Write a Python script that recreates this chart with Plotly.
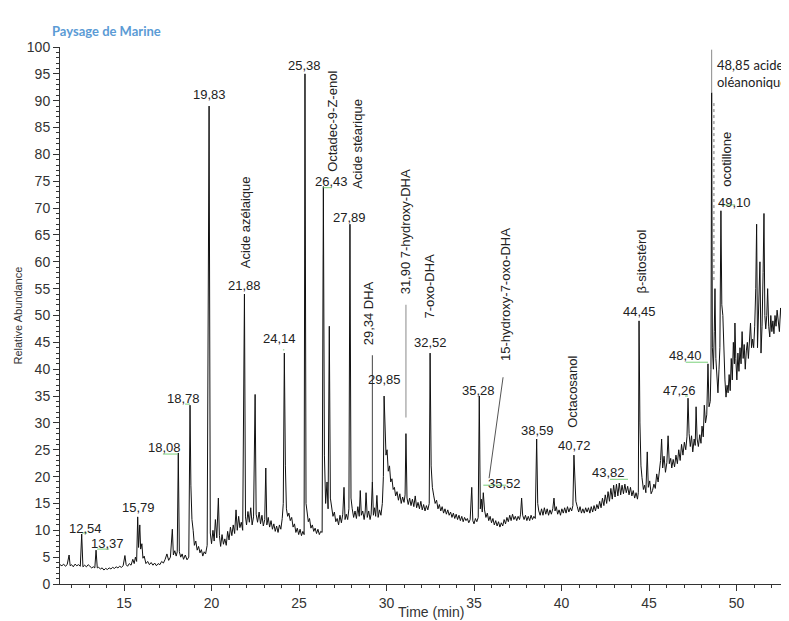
import plotly.graph_objects as go

# ---------------- data ----------------
rt_min = [
    11.34, 11.45, 11.55, 11.65, 11.75, 11.86, 11.92, 12.0, 12.1, 12.2, 12.3, 12.4, 12.5, 12.58, 12.65, 12.75,
    12.85, 12.95, 13.05, 13.15, 13.25, 13.33, 13.4, 13.47, 13.55, 13.65, 13.75, 13.85, 13.95, 14.05, 14.15,
    14.25, 14.35, 14.45, 14.55, 14.65, 14.75, 14.85, 14.95, 15.05, 15.12, 15.2, 15.3, 15.4, 15.5, 15.58,
    15.65, 15.72, 15.78, 15.83, 15.9, 15.95, 16.02, 16.08, 16.15, 16.25, 16.35, 16.45, 16.55, 16.65, 16.75,
    16.85, 16.95, 17.05, 17.15, 17.25, 17.35, 17.45, 17.55, 17.65, 17.76, 17.82, 17.9, 17.98, 18.04, 18.1,
    18.16, 18.24, 18.32, 18.4, 18.5, 18.6, 18.7, 18.77, 18.82, 18.88, 18.95, 19.02, 19.1, 19.18, 19.26,
    19.34, 19.42, 19.5, 19.58, 19.66, 19.75, 19.86, 19.93, 20.0, 20.08, 20.15, 20.22, 20.3, 20.39, 20.45,
    20.52, 20.6, 20.68, 20.76, 20.84, 20.92, 21.0, 21.08, 21.16, 21.24, 21.32, 21.4, 21.47, 21.55, 21.62,
    21.7, 21.78, 21.88, 21.94, 22.0, 22.08, 22.16, 22.24, 22.32, 22.4, 22.49, 22.55, 22.63, 22.72, 22.8,
    22.88, 22.96, 23.04, 23.1, 23.16, 23.24, 23.32, 23.4, 23.48, 23.56, 23.64, 23.72, 23.8, 23.88, 23.96,
    24.04, 24.1, 24.16, 24.22, 24.28, 24.35, 24.42, 24.5, 24.58, 24.66, 24.74, 24.82, 24.9, 24.98, 25.06,
    25.14, 25.22, 25.29, 25.34, 25.4, 25.46, 25.53, 25.6, 25.68, 25.76, 25.84, 25.92, 26.0, 26.08, 26.16,
    26.24, 26.32, 26.39, 26.45, 26.52, 26.6, 26.66, 26.73, 26.79, 26.86, 26.94, 27.02, 27.1, 27.18, 27.26,
    27.34, 27.42, 27.5, 27.57, 27.63, 27.7, 27.78, 27.85, 27.91, 27.97, 28.04, 28.12, 28.2, 28.28, 28.36,
    28.44, 28.5, 28.56, 28.64, 28.72, 28.78, 28.83, 28.9, 28.98, 29.06, 29.12, 29.19, 29.25, 29.32, 29.38,
    29.45, 29.52, 29.6, 29.68, 29.76, 29.82, 29.86, 29.92, 29.97, 30.03, 30.1, 30.17, 30.24, 30.31, 30.38,
    30.45, 30.52, 30.6, 30.68, 30.76, 30.84, 30.92, 31.0, 31.06, 31.11, 31.17, 31.24, 31.32, 31.4, 31.48,
    31.56, 31.64, 31.72, 31.8, 31.88, 31.96, 32.04, 32.12, 32.2, 32.28, 32.36, 32.44, 32.49, 32.55, 32.62,
    32.7, 32.78, 32.86, 32.94, 33.02, 33.1, 33.18, 33.26, 33.34, 33.42, 33.5, 33.58, 33.66, 33.74, 33.82,
    33.9, 33.98, 34.06, 34.14, 34.22, 34.3, 34.38, 34.46, 34.54, 34.62, 34.7, 34.78, 34.87, 34.93, 35.0,
    35.08, 35.16, 35.24, 35.3, 35.36, 35.42, 35.47, 35.53, 35.6, 35.68, 35.76, 35.84, 35.92, 36.0, 36.08,
    36.16, 36.24, 36.32, 36.4, 36.48, 36.56, 36.64, 36.72, 36.8, 36.88, 36.96, 37.04, 37.12, 37.2, 37.28,
    37.36, 37.44, 37.52, 37.6, 37.66, 37.72, 37.78, 37.86, 37.94, 38.02, 38.1, 38.18, 38.26, 38.34, 38.42,
    38.5, 38.58, 38.64, 38.7, 38.78, 38.86, 38.94, 39.02, 39.1, 39.18, 39.26, 39.34, 39.42, 39.5, 39.57,
    39.63, 39.7, 39.78, 39.86, 39.94, 40.02, 40.1, 40.18, 40.26, 40.34, 40.42, 40.5, 40.58, 40.65, 40.71,
    40.76, 40.82, 40.9, 40.98, 41.06, 41.14, 41.22, 41.3, 41.38, 41.46, 41.54, 41.62, 41.7, 41.78, 41.86,
    41.94, 42.02, 42.1, 42.18, 42.26, 42.34, 42.42, 42.5, 42.58, 42.66, 42.74, 42.82, 42.9, 42.98, 43.06,
    43.14, 43.22, 43.3, 43.38, 43.46, 43.54, 43.62, 43.7, 43.78, 43.86, 43.94, 44.02, 44.1, 44.18, 44.26,
    44.34, 44.39, 44.43, 44.48, 44.54, 44.6, 44.68, 44.75, 44.82, 44.9, 44.96, 45.04, 45.12, 45.2, 45.28,
    45.36, 45.44, 45.52, 45.6, 45.66, 45.72, 45.78, 45.86, 45.94, 46.02, 46.09, 46.16, 46.24, 46.3, 46.38,
    46.46, 46.54, 46.62, 46.7, 46.78, 46.86, 46.94, 47.02, 47.1, 47.17, 47.23, 47.29, 47.36, 47.43, 47.5,
    47.58, 47.64, 47.69, 47.75, 47.82, 47.9, 47.97, 48.03, 48.1, 48.16, 48.23, 48.3, 48.37, 48.43, 48.5,
    48.54, 48.58, 48.62, 48.68, 48.73, 48.77, 48.82, 48.88, 48.94, 49.0, 49.05, 49.11, 49.16, 49.22, 49.28,
    49.34, 49.4, 49.46, 49.52, 49.58, 49.64, 49.7, 49.76, 49.82, 49.88, 49.91, 49.96, 50.02, 50.08, 50.14,
    50.2, 50.26, 50.32, 50.38, 50.44, 50.5, 50.56, 50.62, 50.68, 50.74, 50.8, 50.86, 50.92, 50.98, 51.04,
    51.1, 51.15, 51.2, 51.26, 51.34, 51.4, 51.46, 51.52, 51.57, 51.62, 51.67, 51.73, 51.78, 51.84, 51.9,
    51.96, 52.02, 52.08, 52.14, 52.2, 52.26, 52.32, 52.38, 52.45, 52.52, 52.58, 52.64, 52.7, 52.76, 52.82,
    52.88, 52.94, 53.0,
]

rel_abund = [
    3.6, 3.4, 3.7, 3.3, 3.6, 5.4, 3.4, 3.6, 3.2, 3.7, 3.4, 3.6, 3.3, 9.3, 3.2, 3.5,
    3.2, 3.6, 3.3, 3.0, 3.2, 3.0, 6.3, 3.0, 3.1, 2.8, 3.0, 2.6, 2.9, 2.7, 3.0,
    2.8, 3.1, 2.9, 3.2, 3.0, 3.3, 3.1, 3.4, 5.3, 3.6, 3.3, 3.8, 3.5, 4.6, 3.8,
    5.0, 4.2, 12.5, 6.8, 11.0, 6.5, 7.5, 4.8, 5.2, 3.8, 4.2, 3.6, 4.0, 3.5, 3.9,
    3.4, 3.8, 3.6, 4.2, 3.9, 4.6, 5.6, 4.4, 5.0, 10.2, 5.4, 6.2, 5.2, 6.0, 24.4,
    6.0, 5.0, 5.6, 4.6, 5.4, 4.5, 5.0, 33.3, 18.4, 12.0, 10.0, 7.2, 8.0, 6.3, 7.0,
    5.8, 6.4, 5.2, 6.0, 5.6, 7.2, 89.0, 9.5, 7.5, 10.0, 8.0, 12.0, 8.6, 16.0, 9.0,
    7.0, 9.2, 7.4, 8.4, 7.2, 9.8, 8.2, 10.6, 9.0, 11.0, 9.4, 13.8, 10.0, 12.6, 10.5,
    11.5, 10.0, 54.0, 12.5, 11.0, 13.5, 11.5, 14.2, 11.0, 12.5, 35.3, 13.0, 11.5, 13.4, 11.2,
    12.8, 10.8, 12.0, 21.6, 11.0, 12.4, 10.6, 11.8, 10.2, 11.2, 9.8, 10.8, 9.6, 11.0, 10.2,
    12.2, 15.0, 43.0, 22.0, 14.0, 12.6, 13.2, 11.8, 12.4, 10.6, 11.2, 9.6, 10.4, 9.2, 10.2,
    9.0, 9.8, 9.2, 95.0, 15.0, 13.0, 11.6, 12.2, 10.4, 11.0, 9.8, 10.4, 9.4, 10.2, 9.2,
    9.8, 9.6, 74.0, 24.0, 15.0, 19.0, 14.0, 48.0, 16.0, 14.0, 12.6, 13.4, 11.6, 12.2, 11.0,
    12.8, 11.4, 13.0, 18.0, 12.0, 13.0, 12.0, 14.0, 67.0, 16.0, 14.0, 12.4, 13.6, 12.2, 14.4,
    12.6, 17.4, 12.8, 13.6, 12.0, 13.4, 17.0, 12.4, 13.6, 12.0, 13.0, 19.0, 12.8, 14.2, 12.6,
    16.5, 12.4, 13.8, 12.8, 15.0, 20.0, 35.0, 30.0, 24.0, 25.0, 21.0, 22.0, 19.0, 19.6, 17.6,
    18.0, 16.4, 17.2, 15.6, 16.8, 15.0, 16.2, 15.2, 16.6, 28.0, 16.0, 14.8, 16.0, 14.6, 15.8,
    14.4, 16.4, 14.2, 15.2, 14.0, 15.4, 13.8, 14.8, 13.6, 14.6, 13.8, 15.0, 43.0, 22.0, 18.0,
    16.4, 15.0, 15.6, 14.0, 14.8, 13.6, 14.4, 13.2, 14.0, 13.0, 13.8, 12.8, 13.4, 12.4, 13.2,
    12.2, 13.0, 12.0, 12.8, 11.8, 12.6, 11.6, 12.4, 11.8, 12.2, 11.4, 12.0, 18.0, 11.8, 11.2,
    12.2, 11.6, 12.4, 35.0, 14.0, 15.8, 13.4, 17.0, 13.8, 12.4, 13.2, 11.8, 12.6, 11.4, 12.2,
    11.0, 11.8, 10.8, 11.6, 10.6, 11.4, 10.8, 12.0, 11.2, 12.4, 11.6, 12.8, 11.8, 13.0, 12.0,
    12.6, 11.8, 12.6, 12.0, 13.0, 16.0, 12.8, 12.0, 12.8, 11.8, 12.6, 11.8, 12.8, 12.0, 12.6,
    12.2, 27.0, 15.0, 13.6, 12.8, 14.0, 12.8, 14.2, 13.0, 14.0, 12.8, 13.8, 13.0, 14.0, 16.0,
    13.6, 14.4, 13.0, 13.8, 12.8, 14.0, 13.2, 14.2, 13.2, 14.4, 13.4, 14.2, 13.6, 14.6, 24.0,
    19.0, 15.4, 14.4, 13.4, 14.4, 13.2, 14.0, 13.2, 14.2, 13.4, 14.2, 13.2, 14.4, 13.4, 14.6,
    13.6, 14.8, 14.0, 15.4, 14.2, 16.0, 14.6, 16.6, 15.0, 17.2, 15.4, 17.8, 15.8, 18.4, 16.2,
    18.6, 16.4, 18.8, 16.6, 18.4, 16.8, 18.6, 17.0, 18.2, 16.6, 18.0, 16.4, 17.4, 16.0, 17.0,
    15.8, 17.0, 49.0, 30.0, 22.0, 19.8, 17.6, 18.4, 17.0, 24.6, 18.0, 19.2, 16.8, 17.4, 18.6,
    17.8, 20.5, 19.0, 21.0, 23.0, 27.0, 21.6, 23.8, 20.8, 22.6, 27.6, 22.4, 23.4, 21.6, 23.2,
    21.8, 24.0, 22.4, 25.0, 23.0, 26.0, 24.0, 26.4, 25.0, 27.4, 34.6, 28.0, 25.6, 27.6, 24.6,
    27.0, 25.8, 33.0, 27.0, 25.6, 27.8, 26.2, 29.4, 27.4, 33.3, 30.0, 31.5, 41.0, 33.0, 34.0,
    40.0, 91.5, 44.0, 40.0, 47.0, 55.0, 42.0, 38.0, 35.6, 40.0, 44.0, 69.5, 52.0, 50.0, 42.0,
    38.0, 34.8, 37.0, 35.6, 39.0, 36.0, 42.0, 38.0, 45.0, 41.0, 48.6, 42.0, 38.0, 43.0, 39.6,
    44.0, 41.0, 47.0, 42.0, 44.6, 40.0, 43.4, 45.0, 42.0, 46.0, 48.6, 44.0, 45.6, 44.0, 48.0,
    55.0, 67.0, 44.0, 50.0, 60.0, 43.0, 48.0, 58.0, 69.0, 50.0, 47.5, 50.0, 55.0, 48.0, 46.0,
    50.0, 47.0, 49.0, 46.6, 50.0, 48.0, 51.0, 48.6, 47.0, 51.4, 49.0, 52.0, 54.5, 50.0, 51.6,
    50.2, 53.0, 51.0,
]

# retention-time labels: (text, time, abundance)
rt_labels = [
    ("12,54", 12.77, 10.4), ("13,37", 14.03, 7.6), ("15,79", 15.80, 14.2),
    ("18,08", 17.29, 25.5), ("18,78", 18.37, 34.6), ("19,83", 19.86, 91.2),
    ("21,88", 21.86, 55.5), ("24,14", 23.89, 45.8), ("25,38", 25.34, 96.5),
    ("26,43", 26.87, 74.9), ("27,89", 27.89, 68.3), ("29,85", 29.91, 38.0),
    ("32,52", 32.49, 45.0), ("35,28", 35.27, 36.0), ("35,52", 36.77, 18.8),
    ("38,59", 38.60, 28.5), ("40,72", 40.77, 25.7), ("43,82", 42.71, 20.7),
    ("44,45", 44.43, 50.8), ("47,26", 46.74, 36.0), ("48,40", 47.10, 42.5),
    ("48,59", 48.51, 101.7), ("49,10", 49.89, 71.0),
]

# compound names written vertically: (text, time, abundance at centre)
compound_labels = [
    ("Acide azélaique", 21.95, 67.3), ("Octadec-9-Z-enol", 26.87, 86.2),
    ("Acide stéarique", 28.37, 82.0), ("29,34 DHA", 28.94, 50.4),
    ("31,90 7-hydroxy-DHA", 31.06, 65.5), ("7-oxo-DHA", 32.43, 55.4),
    ("15-hydroxy-7-oxo-DHA", 36.77, 54.0), ("Octacosanol", 40.66, 35.8),
    ("β-sitostérol", 44.58, 60.0), ("ocotillone", 49.46, 79.0),
]

# horizontal compound names: (text, time, abundance)
top_labels = [
    ("Acide palmitique", 25.46, 103.3),
    ("Acide moronique", 48.91, 105.4),
]

# leader lines: (t0, a0, t1, a1, colour, dash)
leaders = [
    (48.58, 91.5, 48.58, 99.5, "#8a8a8a", "solid"),
    (31.11, 31.0, 31.11, 52.0, "#8a8a8a", "solid"),
    (29.19, 19.0, 29.19, 42.6, "#444444", "solid"),
    (35.86, 19.7, 36.66, 38.5, "#555555", "solid"),
    (48.71, 56.6, 48.71, 89.8, "#777777", "dot"),
]

# green marker bars next to some labels: (t0, t1, abundance)
green_marks = [
    (12.60, 12.89, 9.5), (13.46, 14.15, 6.5), (17.22, 18.08, 24.2),
    (18.49, 18.77, 33.5), (24.08, 24.16, 43.6), (26.39, 26.87, 73.8),
    (35.53, 36.84, 18.4), (42.77, 43.80, 19.5), (47.06, 47.23, 35.0),
    (47.10, 48.37, 41.3), (49.11, 49.91, 70.6),
]

# ---------------- figure ----------------
NUM_FONT = dict(family="Liberation Sans, Arial, sans-serif", size=13, color="#222222")
CAL_FONT = dict(family="Lato, Carlito, sans-serif", size=14, color="#222222")

fig = go.Figure()
fig.add_trace(go.Scatter(
    x=rt_min, y=rel_abund, mode="lines",
    line=dict(color="#111111", width=1),
    hoverinfo="skip", showlegend=False,
))

annotations = []
for txt, t, a in rt_labels:
    annotations.append(dict(x=t, y=a, xref="x", yref="y", text=txt, showarrow=False,
                            font=NUM_FONT, xanchor="center", yanchor="middle"))
for txt, t, a in compound_labels:
    annotations.append(dict(x=t, y=a, xref="x", yref="y", text=txt, showarrow=False,
                            font=NUM_FONT, textangle=-90, xanchor="center", yanchor="middle"))
for txt, t, a in top_labels:
    annotations.append(dict(x=t, y=a, xref="x", yref="y", text=txt, showarrow=False,
                            font=CAL_FONT, xanchor="center", yanchor="middle"))
annotations.append(dict(x=48.77, y=95.0, xref="x", yref="y", text="48,85 acide<br>oléanonique",
                        showarrow=False, font=dict(family="Lato, Carlito, sans-serif", size=13, color="#222222"),
                        xanchor="left", yanchor="middle", align="left"))
annotations.append(dict(x=(106 - 60) / 729, y=1 + (47 - 31) / 537, xref="paper", yref="paper",
                        text="<b>Paysage de Marine</b>", showarrow=False,
                        font=dict(family="Lato, Carlito, sans-serif", size=13, color="#5B9BD5"),
                        xanchor="center", yanchor="middle"))
annotations.append(dict(x=(431 - 60) / 729, y=-(612 - 584) / 537, xref="paper", yref="paper",
                        text="Time (min)", showarrow=False,
                        font=dict(family="Liberation Sans, Arial, sans-serif", size=14, color="#333333"),
                        xanchor="center", yanchor="middle"))
annotations.append(dict(x=(17 - 60) / 729, y=0.5, xref="paper", yref="paper",
                        text="Relative Abundance", showarrow=False, textangle=-90,
                        font=dict(family="Liberation Sans Narrow, Liberation Sans, Arial, sans-serif",
                                  size=11, color="#333333"),
                        xanchor="center", yanchor="middle"))

shapes = []
for t0, a0, t1, a1, col, dash in leaders:
    shapes.append(dict(type="line", xref="x", yref="y", x0=t0, y0=a0, x1=t1, y1=a1,
                       line=dict(color=col, width=1, dash=dash)))
for t0, t1, a in green_marks:
    shapes.append(dict(type="line", xref="x", yref="y", x0=t0, y0=a, x1=t1, y1=a,
                       line=dict(color="#7cd17c", width=1)))

tickfont = dict(family="Liberation Sans, Arial, sans-serif", size=14, color="#333333")
# the page body has an 8 px margin, so the figure is 8 px smaller and offset accordingly
fig.update_layout(
    width=781, height=613,
    margin=dict(l=52, r=0, t=39, b=37, autoexpand=False),
    paper_bgcolor="white", plot_bgcolor="white",
    annotations=annotations, shapes=shapes,
    xaxis=dict(range=[11.34, 53.0], showline=True, linecolor="#333333", linewidth=1,
               showgrid=False, zeroline=False, ticks="outside", ticklen=6, tickcolor="#333333",
               tick0=0, dtick=5, tickfont=tickfont,
               minor=dict(ticks="outside", ticklen=3, dtick=1, tickcolor="#333333", showgrid=False)),
    yaxis=dict(range=[0, 100], showline=True, linecolor="#333333", linewidth=1,
               showgrid=False, zeroline=False, ticks="outside", ticklen=6, tickcolor="#333333",
               tick0=0, dtick=5, tickfont=tickfont,
               minor=dict(ticks="outside", ticklen=3, dtick=1, tickcolor="#333333", showgrid=False)),
)

fig.write_html("out.html")
